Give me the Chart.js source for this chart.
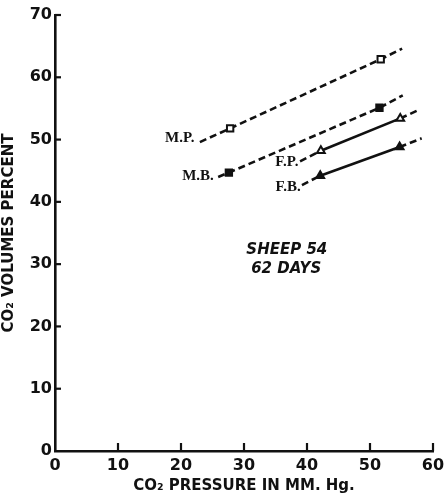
<!DOCTYPE html>
<html>
<head>
<meta charset="utf-8">
<script src="https://cdn.jsdelivr.net/npm/chart.js@4.4.1/dist/chart.umd.min.js"></script>
<style>
  html, body { margin: 0; padding: 0; background: #fff; }
  #wrap { width: 445px; height: 495px; }
</style>
</head>
<body>
<div id="wrap"><canvas id="chart"></canvas></div>
<script>
// values (x = CO2 pressure mm Hg, y = CO2 vol %)
// first and last entries are where the drawn lines stop, the middle ones are the marked points
const mpX = [23.0, 27.8, 51.7, 55.1];
const mpY = [49.6, 51.8, 62.9, 64.6];
const mbX = [25.9, 27.6, 51.5, 55.2];
const mbY = [44.0, 44.7, 55.1, 57.1];
const fpX = [38.9, 42.2, 54.8, 57.4];
const fpY = [46.5, 48.2, 53.4, 54.6];
const fbX = [39.2, 42.1, 54.7, 58.2];
const fbY = [42.7, 44.2, 48.8, 50.2];

const xTicks = [0, 10, 20, 30, 40, 50, 60];
const yTicks = [0, 10, 20, 30, 40, 50, 60, 70];

const seriesLabels = ["M.P.", "M.B.", "F.P.", "F.B."];

const ink = "#111";
const dash = [7, 4];

function pts(xs, ys) {
  return xs.map((x, i) => ({ x, y: ys[i] }));
}

function makeSet(label, xs, ys, style, filled, solidMiddle) {
  const r = xs.map((_, i) => (i === 0 || i === xs.length - 1) ? 0 : 4.5);
  return {
    label,
    data: pts(xs, ys),
    showLine: true,
    borderColor: ink,
    borderWidth: 2.6,
    borderDash: dash,
    pointStyle: style,
    pointRadius: r,
    pointBorderWidth: 2,
    pointBorderColor: ink,
    pointBackgroundColor: filled ? ink : "#fff",
    segment: {
      borderDash: ctx => (solidMiddle && ctx.p0DataIndex === 1) ? [] : dash
    }
  };
}

// where the series names and the note sit (data units)
const nameSpots = [
  { t: "M.P.", x: 19.8, y: 50.3 },
  { t: "M.B.", x: 22.7, y: 44.2 },
  { t: "F.P.", x: 36.8, y: 46.3 },
  { t: "F.B.", x: 37.0, y: 42.3 }
];

const noteLines = ["SHEEP 54", "62 DAYS"];

const decor = {
  id: "decor",
  afterDraw(chart) {
    const c = chart.ctx;
    const xs = chart.scales.x, ys = chart.scales.y;
    c.save();
    c.strokeStyle = ink;
    c.lineWidth = 2.2;
    // inward tick marks
    xTicks.forEach(v => {
      if (v === 0) return;
      const px = xs.getPixelForValue(v);
      c.beginPath();
      c.moveTo(px, ys.bottom);
      c.lineTo(px, ys.bottom - 8);
      c.stroke();
    });
    yTicks.forEach(v => {
      if (v === 0) return;
      const py = ys.getPixelForValue(v);
      c.beginPath();
      c.moveTo(xs.left, py);
      c.lineTo(xs.left + 6, py);
      c.stroke();
    });
    // series names
    c.fillStyle = ink;
    c.font = "bold 15px 'Liberation Serif'";
    c.textAlign = "center";
    c.textBaseline = "middle";
    nameSpots.forEach(n => {
      c.fillText(n.t, xs.getPixelForValue(n.x), ys.getPixelForValue(n.y));
    });
    // note
    c.font = "italic bold 15px 'DejaVu Sans'";
    c.fillText(noteLines[0], xs.getPixelForValue(36.8), ys.getPixelForValue(32.3));
    c.fillText(noteLines[1], xs.getPixelForValue(36.7), ys.getPixelForValue(29.2));
    c.restore();
  }
};

new Chart(document.getElementById("chart"), {
  type: "scatter",
  data: {
    datasets: [
      makeSet(seriesLabels[0], mpX, mpY, "rect", false, false),
      makeSet(seriesLabels[1], mbX, mbY, "rect", true, false),
      makeSet(seriesLabels[2], fpX, fpY, "triangle", false, true),
      makeSet(seriesLabels[3], fbX, fbY, "triangle", true, true)
    ]
  },
  options: {
    responsive: true,
    maintainAspectRatio: false,
    animation: false,
    layout: { padding: { top: 15, right: 12, left: 0, bottom: 0 } },
    plugins: {
      legend: { display: false },
      tooltip: { enabled: false }
    },
    scales: {
      x: {
        type: "linear",
        min: 0,
        max: 60,
        afterFit: s => { s.height = 44; s.paddingLeft = 0; s.paddingRight = 0; },
        afterBuildTicks: s => { s.ticks = xTicks.map(v => ({ value: v })); },
        grid: { drawOnChartArea: false, drawTicks: false },
        border: { display: true, color: ink, width: 2.6 },
        ticks: {
          color: ink,
          padding: 5,
          font: { family: "DejaVu Sans", weight: "bold", size: 16 }
        },
        title: {
          display: true,
          text: "CO₂ PRESSURE IN MM. Hg.",
          color: ink,
          padding: { top: 0, bottom: 0 },
          font: { family: "DejaVu Sans", weight: "bold", size: 15 }
        }
      },
      y: {
        type: "linear",
        min: 0,
        max: 70,
        afterFit: s => { s.width = 55; s.paddingTop = 0; s.paddingBottom = 0; },
        afterBuildTicks: s => { s.ticks = yTicks.map(v => ({ value: v })); },
        grid: { drawOnChartArea: false, drawTicks: false },
        border: { display: true, color: ink, width: 2.6 },
        ticks: {
          color: ink,
          padding: 3,
          font: { family: "DejaVu Sans", weight: "bold", size: 16 }
        },
        title: {
          display: true,
          text: "CO₂ VOLUMES PERCENT",
          color: ink,
          padding: { top: 0, bottom: 0 },
          font: { family: "DejaVu Sans", weight: "bold", size: 15 }
        }
      }
    }
  },
  plugins: [decor]
});
</script>
</body>
</html>
